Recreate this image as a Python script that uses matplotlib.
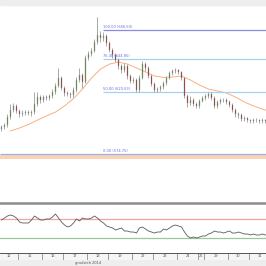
import matplotlib
matplotlib.use("Agg")
import matplotlib.pyplot as plt
from matplotlib.lines import Line2D
from matplotlib.patches import Rectangle
import numpy as np

# hourly closes, December 2014
close = [594.7, 596.2, 602.1, 607.3, 610.3, 606.6, 604.3, 605.1, 605.8, 605.1,
         605.8, 611.7, 616.9, 614.7, 616.9, 616.2, 617.7, 620.6, 625.1, 631.0,
         623.6, 619.9, 619.1, 618.4, 622.1, 629.5, 633.2, 628.0, 645.8, 648.7,
         651.0, 657.6, 662.8, 660.6, 662.1, 656.9, 651.7, 648.0, 644.3, 639.9,
         636.9, 639.9, 632.5, 628.8, 629.5, 622.1, 631.0, 641.3, 638.4, 632.5,
         626.5, 622.1, 622.8, 624.3, 627.3, 631.0, 634.7, 636.2, 636.9, 635.4,
         631.0, 617.7, 612.5, 614.7, 611.7, 610.3, 614.0, 616.2, 617.7, 619.1,
         616.2, 610.3, 613.2, 614.7, 614.7, 613.2, 611.0, 607.3, 604.3, 603.6,
         600.6, 601.4, 599.9, 599.2, 599.9, 599.9, 599.2, 599.9, 599.2]
high = [596.5, 598.0, 604.0, 612.0, 612.5, 611.5, 608.0, 607.0, 607.5, 607.0,
        607.5, 620.5, 621.0, 618.5, 618.5, 618.5, 619.5, 622.5, 627.5, 638.5,
        632.5, 625.0, 621.5, 620.5, 624.0, 631.5, 638.5, 634.5, 648.0, 651.0,
        653.5, 660.0, 676.0, 666.0, 665.0, 663.5, 658.5, 653.0, 649.5, 646.0,
        641.5, 642.0, 641.0, 634.0, 631.5, 631.0, 633.0, 643.5, 643.0, 640.0,
        634.0, 628.0, 624.5, 626.0, 629.0, 632.5, 636.5, 638.0, 638.5, 638.0,
        636.5, 632.0, 619.0, 618.0, 616.0, 613.0, 615.5, 618.0, 619.5, 621.0,
        620.5, 617.5, 615.0, 616.5, 616.5, 616.0, 614.5, 612.5, 608.5, 606.0,
        605.0, 603.0, 602.5, 601.0, 601.5, 601.5, 601.0, 601.5, 601.0]
low = [592.0, 593.5, 595.0, 601.0, 606.0, 605.0, 602.5, 603.0, 603.5, 603.5,
       603.0, 604.5, 610.5, 612.5, 613.0, 614.5, 615.0, 616.5, 619.5, 624.0,
       622.0, 618.0, 617.5, 616.5, 617.0, 621.0, 628.0, 623.5, 627.0, 644.5,
       647.0, 650.0, 656.0, 657.5, 658.5, 655.0, 650.0, 646.0, 642.5, 638.0,
       635.0, 635.5, 630.5, 627.0, 627.0, 620.5, 620.5, 630.0, 636.5, 631.0,
       625.0, 620.5, 620.5, 621.5, 623.0, 626.0, 630.0, 633.5, 635.0, 634.0,
       629.5, 616.0, 609.5, 611.0, 610.0, 608.5, 609.0, 613.0, 615.0, 616.5,
       614.5, 608.5, 609.0, 612.0, 613.0, 611.5, 609.5, 605.5, 602.5, 601.5,
       599.0, 599.5, 598.5, 597.5, 598.0, 598.5, 597.5, 598.0, 597.5]
first_open = 593.5

# moving average, sampled every 3 bars
ma_bar = [3, 6, 9, 12, 15, 18, 21, 24, 27, 30, 33, 36, 39, 42, 45, 48, 51, 54,
          57, 60, 63, 66, 69, 72, 75, 78, 81, 84, 87, 88]
ma_val = [591.8, 594.0, 596.6, 599.9, 602.9, 605.8, 610.3, 615.8, 622.8, 631.0,
          637.6, 641.3, 642.8, 641.3, 638.4, 635.4, 632.5, 631.4, 631.7, 632.5,
          629.5, 625.8, 622.8, 621.4, 619.9, 616.9, 613.2, 610.3, 608.0, 607.3]

# oscillator
rsi = [67.9, 72.1, 76.3, 78.4, 76.3, 72.1, 63.7, 61.6, 61.6, 61.6,
       67.9, 76.3, 72.1, 67.9, 67.9, 70.0, 70.0, 74.2, 80.5, 72.1,
       63.7, 57.4, 53.2, 55.3, 61.6, 70.0, 65.8, 72.1, 70.0, 70.0,
       72.1, 76.3, 72.1, 65.8, 61.6, 55.3, 53.2, 51.1, 46.8, 48.9,
       51.1, 44.7, 44.7, 42.6, 42.6, 40.5, 51.1, 53.2, 48.9, 44.7,
       42.6, 40.5, 42.6, 42.6, 48.9, 46.8, 51.1, 55.3, 57.4, 55.3,
       53.2, 42.6, 34.2, 30.0, 32.1, 30.0, 32.1, 34.2, 34.2, 38.4,
       40.5, 44.7, 42.6, 42.6, 40.5, 42.6, 44.7, 40.5, 40.5, 42.6,
       40.5, 38.4, 38.4, 36.3, 38.4, 36.3, 36.3, 38.4, 36.3]

fib_pct = [100.0, 76.4, 50.0, 0.0]
fib_price = [666.50, 644.85, 620.63, 574.75]

day_labels = ["12", "15", "16", "17", "18", "19", "22", "23", "24", "26", "29", "30", "31"]
day_edges = [5.5, 13.5, 20.5, 28.5, 35.5, 43.5, 50.5, 58.5, 65.5, 67.5, 75.5, 82.5]

W = 266.0
xlim = (-0.5, 88.17)

fig = plt.figure(figsize=(2.66, 2.66), dpi=100)
fig.patch.set_facecolor("white")

# header strip
fig.add_artist(Rectangle((0, 1 - 5 / W), 1, 5 / W, transform=fig.transFigure,
                         color="#eeeeee", zorder=0))

# price panel
ax = fig.add_axes([0, (W - 201) / W, 1, 196 / W])
ax.set_xlim(xlim)
ax.set_ylim(540, 685)
ax.axis("off")

n = len(close)
x = np.arange(n)
opens = np.array([first_open] + close[:-1])
closes = np.array(close)
up = closes >= opens
ax.vlines(x, low, high, color="#9a9a9a", lw=0.6, zorder=2)
ax.bar(x, np.abs(closes - opens) + 0.3, bottom=np.minimum(opens, closes) - 0.15,
       width=0.6, color=np.where(up, "#4f7f35", "#8e2222"),
       edgecolor="#a0a0a0", lw=0.25, zorder=3)
ax.plot(ma_bar, ma_val, color="#f8b080", lw=0.7, zorder=1)

# support band
ax.axhspan(571.0, 574.2, color="#fbd3b4", lw=0, zorder=0)
fib_col = ["#8a8ae4", "#a6d2f0", "#a6d2f0", "#9fb2e4"]
fib_start = [33.8, 33.8, 33.8, xlim[0]]
for pct, price, c, xs in zip(fib_pct, fib_price, fib_col, fib_start):
    ax.hlines(price, xs, xlim[1], color=c, lw=0.9, zorder=1)
    ax.text(33.8, price + 0.6, f"{pct:.2f} ({price:.2f})", fontsize=2.6,
            color="#6c6cd8", ha="left", va="bottom", zorder=4)

# separator
fig.add_artist(Line2D([0, 1], [(W - 202.5) / W] * 2, transform=fig.transFigure,
                      color="#8c8c8c", lw=1.8))

# oscillator panel
ax2 = fig.add_axes([0, (W - 252.25) / W, 1, 47.5 / W])
ax2.set_xlim(xlim)
ax2.set_ylim(0, 100)
ax2.axis("off")
ax2.axhline(70, color="#f4a3a3", lw=0.9)
ax2.axhline(30, color="#98c898", lw=0.9)
ax2.plot(x, rsi, color="#5a5a5a", lw=0.6)

# date strip
ax3 = fig.add_axes([0, 6 / W, 1, 7.5 / W])
ax3.set_xlim(xlim)
ax3.set_ylim(0, 1)
ax3.set_facecolor("#f6f6f6")
ax3.set_xticks([])
ax3.set_yticks([])
for s in ["left", "right", "bottom"]:
    ax3.spines[s].set_visible(False)
ax3.spines["top"].set_color("#555555")
ax3.spines["top"].set_linewidth(0.7)
ax3.vlines(day_edges, 0, 1, color="#777777", lw=0.5)
bounds = [xlim[0]] + day_edges + [xlim[1] + 1.5]
for lab, a, b in zip(day_labels, bounds[:-1], bounds[1:]):
    ax3.text((a + b) / 2, 0.5, lab, fontsize=2.6, color="#555555",
             ha="center", va="center")

fig.add_artist(Rectangle((0, 0), 1, 6 / W, transform=fig.transFigure,
                         color="#eeeeee", zorder=0))
fig.text(88 / W, 3 / W, "grudzień 2014", fontsize=2.6, color="#555555",
         ha="center", va="center")

fig.savefig("out.png", dpi=100)
